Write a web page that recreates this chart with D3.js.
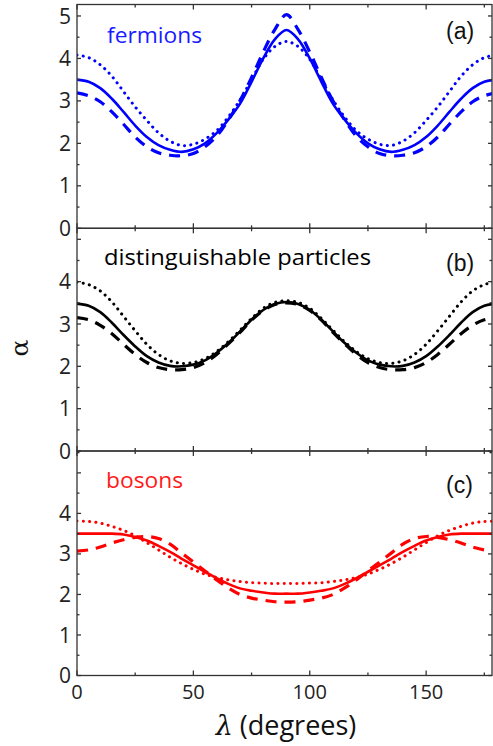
<!DOCTYPE html>
<html><head><meta charset="utf-8">
<script src="https://cdn.jsdelivr.net/npm/d3@7"></script>
<style>body{margin:0;background:#fff}svg{display:block}</style>
</head><body>
<script>
// ---- data ----
const lambda = d3.range(0, 181, 5);
const xTicks = [0, 50, 100, 150];
const xMinor = [25, 75, 125, 175];
const yTicksA = [0, 1, 2, 3, 4, 5];
const yTicksBC = [0, 1, 2, 3, 4];

// fermions (a)
const fermSolid  = [3.50,3.45,3.30,3.05,2.74,2.42,2.15,1.96,1.85,1.80,1.86,2.00,2.24,2.56,2.93,3.45,4.00,4.45,4.67,4.45,4.00,3.45,2.93,2.56,2.24,2.00,1.86,1.80,1.85,1.96,2.15,2.42,2.74,3.05,3.30,3.45,3.50];
const fermDotted = [4.08,4.02,3.85,3.58,3.22,2.86,2.54,2.25,2.05,1.95,1.98,2.10,2.30,2.62,3.02,3.50,3.98,4.28,4.40,4.28,3.98,3.50,3.02,2.62,2.30,2.10,1.98,1.95,2.05,2.25,2.54,2.86,3.22,3.58,3.85,4.02,4.08];
const fermDashed = [3.19,3.12,2.98,2.74,2.45,2.15,1.92,1.78,1.72,1.71,1.76,1.92,2.17,2.55,3.00,3.55,4.15,4.68,5.03,4.68,4.15,3.55,3.00,2.55,2.17,1.92,1.76,1.71,1.72,1.78,1.92,2.15,2.45,2.74,2.98,3.12,3.19];

// distinguishable particles (b)
const distSolid  = [3.48,3.43,3.28,3.03,2.74,2.47,2.24,2.09,2.01,2.00,2.04,2.14,2.32,2.55,2.82,3.10,3.33,3.47,3.52,3.47,3.33,3.10,2.82,2.55,2.32,2.14,2.04,2.00,2.01,2.09,2.24,2.47,2.74,3.03,3.28,3.43,3.48];
const distDotted = [3.99,3.93,3.78,3.52,3.18,2.84,2.52,2.28,2.13,2.07,2.09,2.18,2.35,2.58,2.85,3.13,3.37,3.51,3.55,3.51,3.37,3.13,2.85,2.58,2.35,2.18,2.09,2.07,2.13,2.28,2.52,2.84,3.18,3.52,3.78,3.93,3.99];
const distDashed = [3.15,3.10,2.97,2.77,2.52,2.28,2.09,1.97,1.92,1.92,1.97,2.09,2.28,2.53,2.80,3.09,3.32,3.46,3.50,3.46,3.32,3.09,2.80,2.53,2.28,2.09,1.97,1.92,1.92,1.97,2.09,2.28,2.52,2.77,2.97,3.10,3.15];

// bosons (c)
const bosSolid  = [3.50,3.50,3.50,3.50,3.48,3.42,3.33,3.20,3.05,2.88,2.72,2.56,2.40,2.26,2.15,2.09,2.05,2.02,2.02,2.02,2.05,2.09,2.15,2.26,2.40,2.56,2.72,2.88,3.05,3.20,3.33,3.42,3.48,3.50,3.50,3.50,3.50];
const bosDotted = [3.81,3.80,3.76,3.68,3.58,3.45,3.28,3.10,2.92,2.76,2.62,2.50,2.42,2.36,2.32,2.29,2.28,2.27,2.27,2.27,2.28,2.29,2.32,2.36,2.42,2.50,2.62,2.76,2.92,3.10,3.28,3.45,3.58,3.68,3.76,3.80,3.81];
const bosDashed = [3.07,3.10,3.17,3.27,3.35,3.41,3.43,3.38,3.24,3.02,2.80,2.58,2.36,2.16,2.00,1.91,1.86,1.82,1.81,1.82,1.86,1.91,2.00,2.16,2.36,2.58,2.80,3.02,3.24,3.38,3.43,3.41,3.35,3.27,3.17,3.10,3.07];

const panels = [
  {top: 4.5, bottom: 228.3, ymax: 5.27, color: "#0000ff", labColor: "#1a1aff", label: "fermions", tag: "(a)", yt: yTicksA,
   series: [fermSolid, fermDotted, fermDashed], lx: 107, ly: 42.5, lw: 95, tagY: 39},
  {top: 228.3, bottom: 451, ymax: 5.26, color: "#000000", labColor: "#000000", label: "distinguishable particles", tag: "(b)", yt: yTicksBC,
   series: [distSolid, distDotted, distDashed], lx: 104, ly: 265, lw: 267, tagY: 271},
  {top: 451, bottom: 675.5, ymax: 5.54, color: "#ff0000", labColor: "#ff1a1a", label: "bosons", tag: "(c)", yt: yTicksBC,
   series: [bosSolid, bosDotted, bosDashed], lx: 106, ly: 487.5, lw: 77, tagY: 493}
];

const W = 493, H = 746;
const left = 77, right = 492;
const svg = d3.select("body").append("svg").attr("width", W).attr("height", H);
const x = d3.scaleLinear().domain([0, 178.3]).range([left, right]);
const axisColor = "#333";
const tickFont = "'Open Sans', 'Noto Sans', sans-serif";

const styles = [
  {w: 2.6, dash: null, cap: "butt"},
  {w: 3.0, dash: "0.1,6.2", cap: "round"},
  {w: 3.2, dash: "11,8", cap: "butt"}
];

panels.forEach((p, i) => {
  const y = d3.scaleLinear().domain([0, p.ymax]).range([p.bottom, p.top]);
  const g = svg.append("g");
  const cid = "clip" + i;
  svg.append("clipPath").attr("id", cid).append("rect")
    .attr("x", left).attr("y", p.top).attr("width", right - left).attr("height", p.bottom - p.top);

  const line = d3.line().x((d, k) => x(lambda[k])).y(d => y(d)).curve(d3.curveCatmullRom.alpha(0.5));
  const lg = g.append("g").attr("clip-path", `url(#${cid})`);
  p.series.forEach((s, k) => {
    lg.append("path").attr("d", line(s)).attr("fill", "none")
      .attr("stroke", p.color).attr("stroke-width", styles[k].w)
      .attr("stroke-dasharray", styles[k].dash).attr("stroke-linecap", styles[k].cap);
  });

  // axes: ticks inward
  const ax = g.append("g").attr("stroke", axisColor).attr("stroke-width", 1.3);
  xTicks.forEach(t => {
    ax.append("line").attr("x1", x(t)).attr("x2", x(t)).attr("y1", p.bottom).attr("y2", p.bottom - 5);
    ax.append("line").attr("x1", x(t)).attr("x2", x(t)).attr("y1", p.top).attr("y2", p.top + 5);
  });
  xMinor.forEach(t => {
    ax.append("line").attr("x1", x(t)).attr("x2", x(t)).attr("y1", p.bottom).attr("y2", p.bottom - 3);
    ax.append("line").attr("x1", x(t)).attr("x2", x(t)).attr("y1", p.top).attr("y2", p.top + 3);
  });
  const yMaj = d3.range(0, Math.floor(p.ymax) + 1);
  const yMin = d3.range(0.5, p.ymax, 1);
  yMaj.forEach(t => {
    ax.append("line").attr("x1", left).attr("x2", left + 4).attr("y1", y(t)).attr("y2", y(t));
    ax.append("line").attr("x1", right).attr("x2", right - 4).attr("y1", y(t)).attr("y2", y(t));
  });
  yMin.forEach(t => {
    ax.append("line").attr("x1", left).attr("x2", left + 2.5).attr("y1", y(t)).attr("y2", y(t));
    ax.append("line").attr("x1", right).attr("x2", right - 2.5).attr("y1", y(t)).attr("y2", y(t));
  });
  ax.append("rect").attr("x", left).attr("y", p.top).attr("width", right - left).attr("height", p.bottom - p.top)
    .attr("fill", "none");

  g.selectAll("text.yt").data(p.yt).enter().append("text")
    .attr("x", 71).attr("y", d => y(d)).attr("dy", "0.36em")
    .attr("text-anchor", "end").attr("font-family", tickFont).attr("font-size", 21)
    .attr("fill", "#222").text(d => d);

  g.append("text").attr("x", p.lx).attr("y", p.ly).attr("font-family", tickFont)
    .attr("font-size", 21.5).attr("fill", p.labColor)
    .attr("textLength", p.lw).attr("lengthAdjust", "spacingAndGlyphs").text(p.label);
  g.append("text").attr("x", 446).attr("y", p.tagY).attr("font-family", "'Liberation Sans', Arial, sans-serif")
    .attr("font-size", 23).attr("fill", "#111").text(p.tag);
});

svg.selectAll("text.xt").data(xTicks).enter().append("text")
  .attr("x", d => x(d)).attr("y", 698.5).attr("text-anchor", "middle")
  .attr("font-family", tickFont).attr("font-size", 20).attr("fill", "#222").text(d => d);

const xt = svg.append("text").attr("x", 286).attr("y", 735).attr("text-anchor", "middle")
  .attr("font-size", 27).attr("fill", "#111");
xt.append("tspan").attr("font-family", "'DejaVu Serif', serif").attr("font-style", "italic").text("λ");
xt.append("tspan").attr("font-family", tickFont).text(" (degrees)");

svg.append("text").attr("transform", "translate(28,348) rotate(-90)").attr("text-anchor", "middle")
  .attr("font-family", "'DejaVu Serif', serif").attr("font-size", 25).attr("fill", "#111").text("α");
</script>
</body></html>
